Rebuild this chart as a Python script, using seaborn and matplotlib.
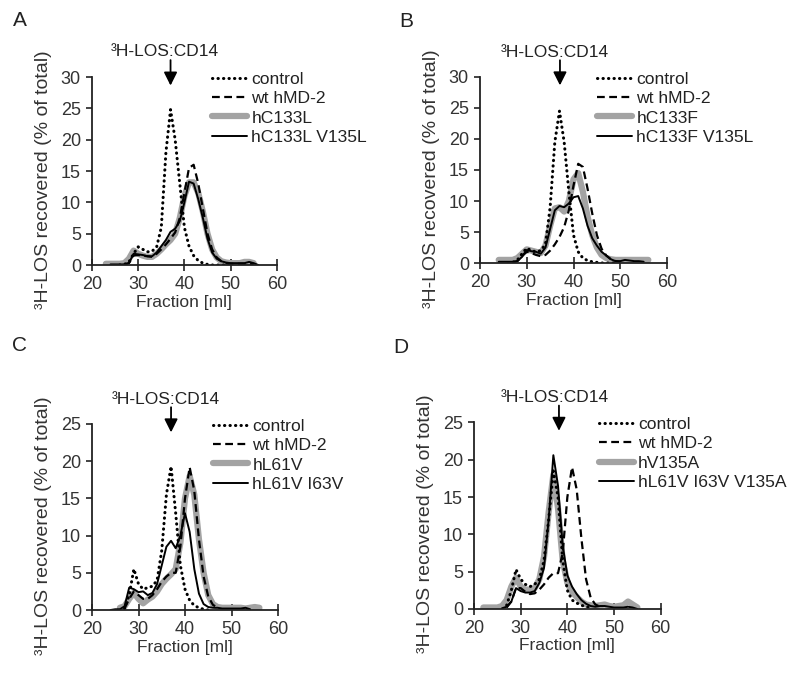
import numpy as np
import matplotlib
matplotlib.use("Agg")
import matplotlib.pyplot as plt
import seaborn as sns

sns.set_style("ticks")
plt.rcParams['font.family'] = ['Liberation Sans', 'DejaVu Sans']

nan = np.nan
# fraction volume (ml), shared by all series
fraction = list(range(22, 57))

# ---- panel A ----
a_control = [nan, nan, nan, nan, 0, 0.1, 0.5, 1.8, 2.9, 2.5, 2.1, 2.2, 2.9, 6, 18, 24.8, 20, 13, 6, 3, 1.5, 0.7, 0.3, 0.1, 0, 0, 0, 0, 0, nan, nan, nan, nan, nan, nan]
a_wt = [nan, nan, nan, nan, nan, 0.1, 0.3, 1.5, 1.6, 1.5, 1.4, 1.3, 1.8, 2.5, 3.3, 4.2, 5.2, 7.5, 11.5, 15.5, 16, 13, 9, 5, 2.5, 1.2, 0.6, 0.3, 0.2, 0.2, 0.2, 0.2, 0.2, 0.1, nan]
a_mut = [nan, 0.2, 0.2, 0.2, 0.2, 0.3, 1.0, 2.3, 1.8, 1.5, 1.3, 1.3, 1.8, 2.5, 3.3, 4.0, 5.0, 7.5, 11, 13.2, 13.2, 11.5, 8.5, 5, 2.5, 1.2, 0.6, 0.4, 0.3, 0.3, 0.3, 0.5, 0.5, 0.3, nan]
a_dbl = [nan, nan, 0.1, 0.1, 0.1, 0.1, 0.3, 1.8, 1.7, 1.6, 1.4, 1.4, 2.0, 3.0, 4.0, 5.3, 5.8, 7.0, 10, 13.3, 13, 10.5, 7.5, 4.2, 2.0, 1.0, 0.6, 0.4, 0.3, 0.3, 0.3, 0.3, 0.5, 0.3, 0]

# ---- panel B ----
b_control = [nan, nan, nan, nan, 0, 0.1, 0.5, 1.5, 2.4, 2.0, 1.8, 2.0, 3, 9, 19.5, 24.5, 19.5, 11.5, 4.5, 1.8, 0.8, 0.4, 0.2, 0.1, 0, 0, 0, 0, nan, nan, nan, nan, nan, nan, nan]
b_wt = [nan, nan, nan, nan, nan, 0.1, 0.3, 1.2, 1.8, 1.6, 1.3, 1.1, 1.3, 2.0, 3.0, 4.2, 5.8, 8.5, 12.5, 16, 15.5, 12, 8, 4.5, 2.3, 1.2, 0.6, 0.3, 0.2, nan, nan, nan, nan, nan, nan]
b_mut = [nan, nan, 0.5, 0.5, 0.5, 0.5, 0.8, 1.5, 2.2, 2.0, 1.8, 1.6, 2.8, 6, 8.8, 9.0, 8.3, 10, 13.5, 14.5, 11.5, 7.5, 4.5, 2.5, 1.3, 0.8, 0.6, 0.5, 0.5, 0.5, 0.5, 0.5, 0.5, 0.5, 0.5]
b_dbl = [nan, nan, 0.2, 0.2, 0.2, 0.2, 0.3, 1.0, 2.1, 1.9, 1.8, 1.5, 2.5, 5.5, 8.5, 9.2, 9.0, 9.6, 10.6, 10.8, 8.8, 6, 4, 2.8, 1.8, 1.2, 0.6, 0.3, 0.3, 0.5, 0.4, 0.3, 0.3, 0.2, nan]

# ---- panel C ----
c_control = [nan, nan, nan, nan, nan, 0.2, 2.0, 5.5, 3.5, 2.8, 3.0, 3.2, 4, 8, 15.5, 19.3, 13, 6, 2.8, 1.3, 0.6, 0.3, 0.1, 0, nan, nan, nan, nan, nan, nan, nan, nan, nan, nan, nan]
c_wt = [nan, nan, nan, nan, nan, 0.2, 1.5, 2.5, 2.0, 1.5, 1.5, 2.0, 2.8, 3.8, 4.5, 5.0, 5.0, 8.5, 15, 19.2, 16, 9.5, 4.5, 1.8, 0.7, 0.3, nan, nan, nan, nan, nan, nan, nan, nan, nan]
c_mut = [nan, nan, nan, nan, 0.3, 0.5, 1.5, 2.3, 1.5, 0.9, 1.4, 1.8, 2.5, 3.5, 4.2, 4.8, 5.5, 9, 15, 18, 15.5, 9.5, 5, 2.0, 0.8, 0.4, 0.3, 0.3, 0.3, 0.3, 0.3, 0.2, 0.3, 0.4, 0.3]
c_dbl = [nan, nan, 0, 0.1, 0.1, 0.5, 3.0, 2.8, 2.4, 2.5, 2.0, 2.3, 3.5, 6, 8.5, 9.3, 8.3, 10, 13, 10.5, 5.5, 2.2, 0.8, 0.4, 0.3, 0.3, 0.2, 0.2, 0.2, 0.2, 0.2, 0.3, 0.1, nan, nan]

# ---- panel D ----
d_control = [nan, nan, nan, nan, nan, 0.5, 2.5, 5.3, 4.0, 3.3, 3.0, 3.3, 4, 6.5, 12, 18.5, 15, 6.5, 2.5, 1.2, 0.8, 0.5, 0.3, 0.2, nan, nan, nan, nan, nan, nan, nan, nan, nan, nan, nan]
d_wt = [nan, nan, nan, nan, nan, 0.2, 1.0, 2.8, 2.8, 2.3, 2.0, 2.1, 2.6, 3.3, 4.2, 4.8, 4.8, 7.5, 15, 19, 16, 9.5, 4, 1.5, 0.6, 0.3, nan, nan, nan, nan, nan, nan, nan, nan, nan]
d_mut = [0.2, 0.2, 0.2, 0.2, 0.4, 1.2, 3, 4.2, 3.0, 2.6, 2.6, 2.8, 4, 7, 13, 18, 13.5, 6.5, 3.5, 2.3, 1.6, 1.0, 0.6, 0.5, 0.4, 0.5, 0.6, 0.4, 0.3, 0.4, 0.5, 1.0, 0.6, 0.2, nan]
d_dbl = [nan, nan, nan, nan, 0.1, 0.3, 1.0, 2.8, 2.4, 2.2, 2.2, 2.4, 3.5, 5.5, 12, 20.6, 16.5, 8.5, 4.5, 3.0, 2.0, 1.2, 0.7, 0.4, 0.3, 0.4, 0.4, 0.3, 0.2, 0.2, 0.2, 0.3, 0.2, 0, nan]

panels = [
    ("A", [0.115, 0.6062, 0.231, 0.2793], 30, ["hC133L", "hC133L V135L"],
     [a_control, a_wt, a_mut, a_dbl], 35.8, 37.0, 0.65, 1.30),
    ("B", [0.600, 0.6092, 0.2338, 0.2764], 30, ["hC133F", "hC133F V135L"],
     [b_control, b_wt, b_mut, b_dbl], 36.0, 37.1, 0.626, 1.30),
    ("C", [0.115, 0.0936, 0.2325, 0.2764], 25, ["hL61V", "hL61V I63V"],
     [c_control, c_wt, c_mut, c_dbl], 35.8, 37.0, 0.65, 1.42),
    ("D", [0.5925, 0.0951, 0.2334, 0.2773], 25, ["hV135A", "hL61V I63V V135A"],
     [d_control, d_wt, d_mut, d_dbl], 37.3, 38.2, 0.668, 1.40),
]

fig = plt.figure(figsize=(8, 6.73), dpi=100)

for letter, rect, ymax, names, series, text_x, arrow_x, leg_x, letter_y in panels:
    ax = fig.add_axes(rect)
    labels = ["control", "wt hMD-2"] + names
    styles = [
        dict(color="black", lw=2.2, linestyle=(0, (0.1, 1.7)), dash_capstyle="round"),
        dict(color="black", lw=1.6, linestyle=(0, (3.5, 2))),
        dict(color="#a3a3a3", lw=4.5, linestyle="-"),
        dict(color="black", lw=1.4, linestyle="-"),
    ]
    order = [2, 1, 0, 3]
    for i in order:
        sns.lineplot(x=fraction, y=series[i], ax=ax, label=labels[i], **styles[i])

    ax.set_xlim(20, 60)
    ax.set_ylim(0, ymax)
    ax.set_xticks([20, 30, 40, 50, 60])
    ax.set_yticks(list(range(0, ymax + 1, 5)))
    ax.tick_params(labelsize=13, width=1.2, color="#222222", labelcolor="#333333")
    ax.tick_params(axis="x", direction="inout", length=8, pad=4)
    ax.tick_params(axis="y", direction="out", length=4, pad=4)
    for s in ["left", "bottom"]:
        ax.spines[s].set_linewidth(1.3)
        ax.spines[s].set_color("#222222")
    sns.despine(ax=ax)
    ax.set_xlabel("Fraction [ml]", fontsize=12.5, color="#333333", labelpad=1)
    ax.set_ylabel("³H-LOS recovered (% of total)", fontsize=14, color="#333333")
    ax.yaxis.set_label_coords(-0.215, 0.455)

    handles, labs = ax.get_legend_handles_labels()
    hmap = dict(zip(labs, handles))
    ax.legend([hmap[l] for l in labels], labels, loc="upper left",
              bbox_to_anchor=(leg_x, 1.03), frameon=False, fontsize=12.6,
              handlelength=2.0, handletextpad=0.25, labelspacing=0.24,
              borderpad=0, borderaxespad=0, labelcolor="#222222")

    # arrow marking the 3H-LOS:CD14 elution position
    head_y = ymax * 0.94
    tail_y = ymax * 1.105
    ax.annotate("", xy=(arrow_x, head_y), xytext=(arrow_x, tail_y),
                arrowprops=dict(arrowstyle="-|>", color="black", lw=1.3, mutation_scale=20),
                annotation_clip=False)
    ax.text(text_x, tail_y + ymax * 0.005, "³H-LOS:CD14", ha="center", va="baseline",
            fontsize=12.5, color="#222222")

    ax.text(-0.43, letter_y, letter, transform=ax.transAxes,
            fontsize=15, color="#222222", ha="left", va="center")

fig.savefig("out.png", dpi=100)
